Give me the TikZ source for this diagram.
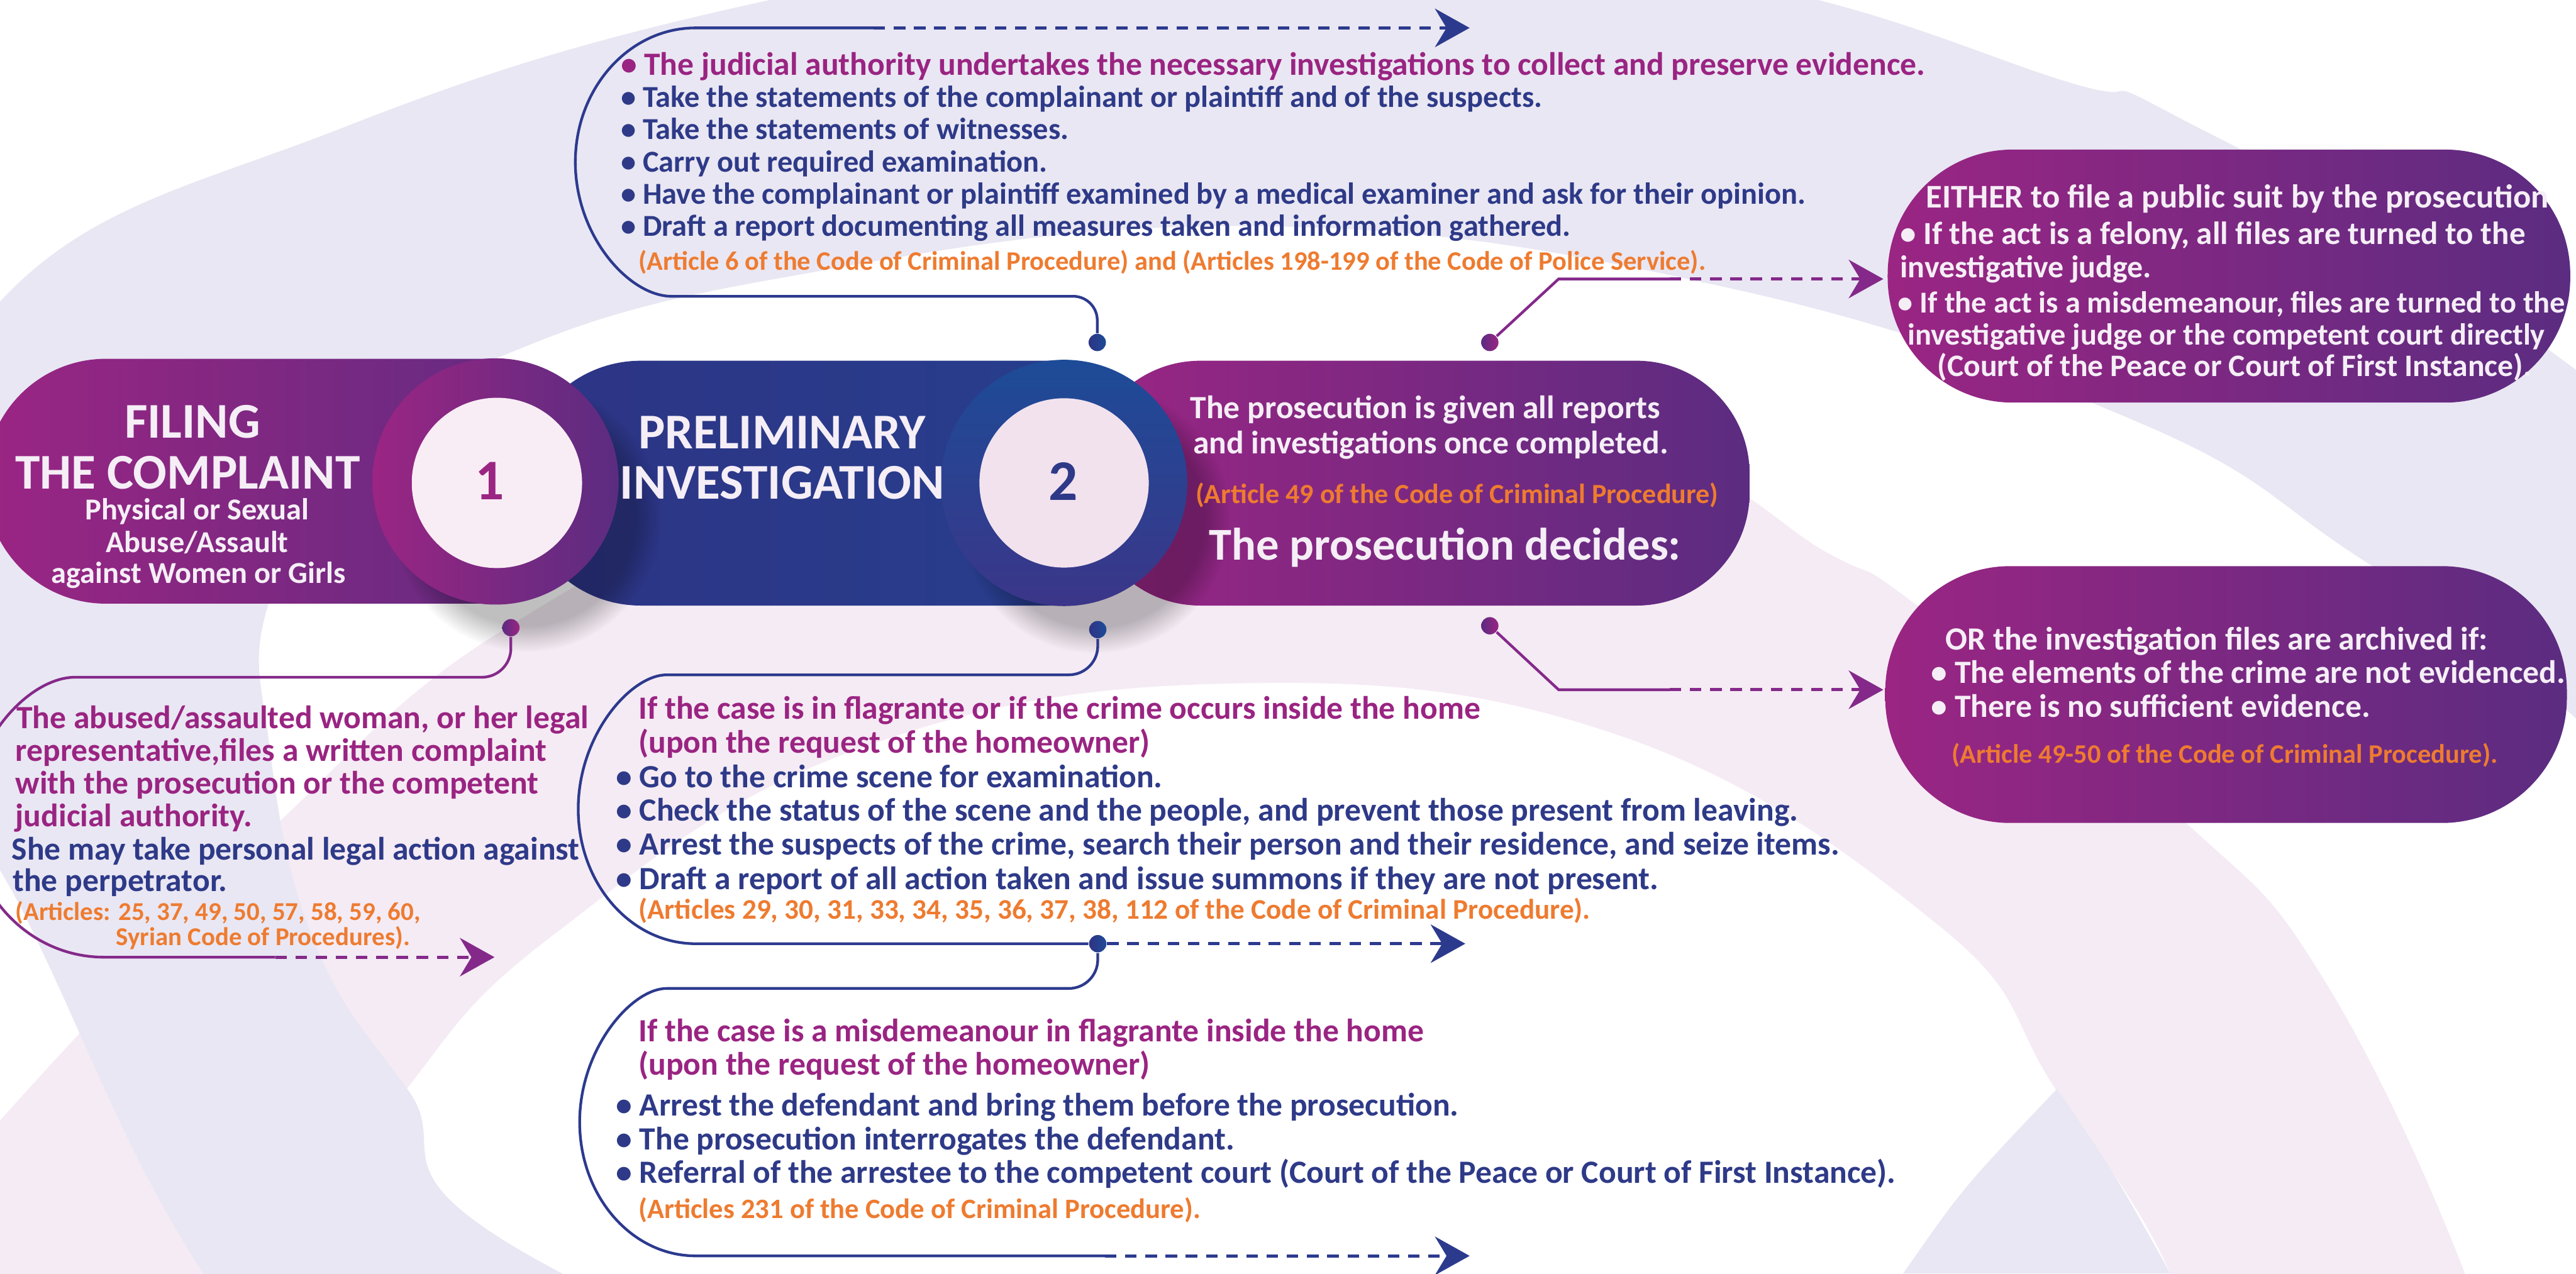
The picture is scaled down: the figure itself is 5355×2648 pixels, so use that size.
\documentclass[tikz,border=0pt]{standalone}
\usepackage{fontspec}
\setmainfont{Carlito}
\usetikzlibrary{arrows.meta,fadings}

\definecolor{magL}{HTML}{9B2583}
\definecolor{purR}{HTML}{5B2C81}
\definecolor{bluL}{HTML}{2E3485}
\definecolor{bluR}{HTML}{25408E}
\definecolor{bluT}{HTML}{1D4B97}
\definecolor{bluB}{HTML}{3B3689}
\definecolor{txtMag}{HTML}{9A2482}
\definecolor{txtBlu}{HTML}{2E3A88}
\definecolor{txtOrg}{HTML}{EE7B30}
\definecolor{txtWht}{HTML}{F5EEF6}
\definecolor{bgLav}{HTML}{E9E7F3}
\definecolor{bgPnk}{HTML}{F5EBF4}
\definecolor{diskIn}{HTML}{F9EDF5}
\definecolor{diskInB}{HTML}{F1E2EE}
\definecolor{lnBlu}{HTML}{2C3A8E}
\definecolor{lnMag}{HTML}{84298A}

\begin{document}
\begin{tikzpicture}[x=0.05mm, y=-0.05mm,
  blu/.style={text=txtBlu, font=\bfseries\fontsize{9.6}{10}\selectfont, anchor=base west, inner sep=0pt},
  mag/.style={blu, text=txtMag},
  bluS/.style={blu, font=\bfseries\fontsize{9}{10}\selectfont},
  org/.style={text=txtOrg, font=\bfseries\fontsize{8.2}{9}\selectfont, anchor=base west, inner sep=0pt},
  orgS/.style={org, font=\bfseries\fontsize{7.6}{8}\selectfont},
  wht/.style={text=txtWht, font=\bfseries\fontsize{9.6}{10}\selectfont, anchor=base west, inner sep=0pt},
  whtc/.style={wht, anchor=base, font=\bfseries\fontsize{9}{10}\selectfont},
  ttl/.style={text=txtWht, font=\bfseries\fontsize{14.8}{16}\selectfont, anchor=base, inner sep=0pt},
  dec/.style={ttl, font=\bfseries\fontsize{13.5}{15}\selectfont},
  num/.style={font=\bfseries\fontsize{17}{17}\selectfont, anchor=base, inner sep=0pt},
  dotb/.style={circle, minimum size=1.8mm, inner sep=0pt, left color=bluL, right color=bluT},
  dotm/.style={circle, minimum size=1.8mm, inner sep=0pt, left color=purR, right color=magL},
  bline/.style={lnBlu, line width=0.8pt},
  mline/.style={lnMag, line width=0.8pt},
  dashline/.style={dash pattern=on 1.2mm off 0.9mm, line width=0.9pt},
  arrowhd/.style={-{Stealth[length=3.6mm, width=4mm, inset=1.2mm]}}]

\useasboundingbox (0,0) rectangle (5355,2648);

% rings behind everything
\begin{scope}
\clip (0,0) rectangle (5355,2648);
\fill[white] (0,0) rectangle (5355,2648);
% inner ring
\fill[bgPnk, even odd rule]
  plot[smooth cycle, tension=0.7] coordinates {(-250,2650) (300,2000) (580,1709) (1036,1316) (1700,1010) (2600,880)
     (3400,940) (3800,1150) (3988,1261) (4540,1707) (4828,2032) (5124,2648) (5200,3000) (-300,3000)}
  plot[smooth cycle, tension=0.7] coordinates {(600,2648) (846,2263) (1150,1944) (1760,1566) (2555,1421) (3369,1530)
     (4035,1928) (4271,2261) (4512,2648) (4600,3000) (500,3000)};
\fill[bgLav] (3956,2648) .. controls (4080,2470) .. (4276,2264) .. controls (4390,2430) .. (4512,2648) -- cycle;
% outer ring
\fill[bgLav, even odd rule]
  plot[smooth cycle, tension=0.7] coordinates {(50,1900) (-250,1300) (0,627) (714,265) (1600,0) (2600,-150) (3600,-40)
     (4300,171) (4515,237) (5200,650) (5800,1300) (6000,2600) (3500,3700) (900,3200) (423,2648)}
  plot[smooth cycle, tension=0.7] coordinates {(846,2263) (650,1950) (560,1550) (560,1250) (760,930) (1020,750) (1600,582)
     (2600,470) (3600,600) (4450,880) (4890,1150) (5308,1448) (5700,2000) (5500,3100) (3000,3400) (1169,2648)};
\end{scope}

%------------------------------------------------------
% bars
\shade[left color=magL, right color=purR, rounded corners=12.5mm] (-30,746) rectangle (1280,1255);
\shade[left color=bluL, right color=bluR, rounded corners=12.5mm] (1082,750) rectangle (2462,1259);
\shade[left color=magL, right color=purR, rounded corners=11.75mm] (2260,750) rectangle (3637,1259);
\shade[left color=magL, right color=purR, rounded corners=13mm] (3924,311) rectangle (5343,837);
\shade[left color=magL, right color=purR, rounded corners=13mm] (3919,1177) rectangle (5336,1711);

% shadows
\fill[black, opacity=0.25, path fading=circle with fuzzy edge 20 percent] (1095,1075) circle [radius=14mm];
\fill[black, opacity=0.25, path fading=circle with fuzzy edge 20 percent] (2277,1078) circle [radius=14mm];

% discs
\shade[left color=magL, right color=purR] (1030,1001) circle [radius=12.8mm];
\fill[diskIn] (1033,1004) circle [radius=8.85mm];
\shade[top color=bluT, bottom color=bluB] (2212,1004) circle [radius=12.8mm];
\fill[diskInB] (2212,1004) circle [radius=8.8mm];

\node[num, text=magL]   (n1) at (1018,1039) {1};
\node[num, text=txtBlu] (n2) at (2210,1040) {2};

% Heading
\node[ttl]  (fil1) at (400,910)  {FILING};
\node[ttl]  (fil2) at (390,1017) {THE COMPLAINT};
\node[whtc] (fil3) at (410,1081) {Physical or Sexual};
\node[whtc] (fil4) at (410,1148) {Abuse/Assault};
\node[whtc] (fil5) at (413,1213) {against Women or Girls};

\node[ttl]  (pre1) at (1626,933)  {PRELIMINARY};
\node[ttl]  (pre2) at (1626,1037) {INVESTIGATION};

\node[wht]  (pr1) at (2473,870)  {The prosecution is given all reports};
\node[wht]  (pr2) at (2479,943)  {and investigations once completed.};
\node[org, anchor=base] (pr3) at (3029,1046) {(Article 49 of the Code of Criminal Procedure)};
\node[dec]  (pr4) at (3004,1164) {The prosecution decides:};

\node[wht, font=\bfseries\fontsize{9.8}{11}\selectfont] (ei1) at (4003,432) {EITHER to file a public suit by the prosecution};
\node[wht, font=\bfseries\fontsize{9.5}{10}\selectfont]  (ei2) at (3949,508) {\textbullet{} If the act is a felony, all files are turned to the};
\node[wht, font=\bfseries\fontsize{9.3}{10}\selectfont]  (ei3) at (3949,577) {investigative judge.};
\node[wht, font=\bfseries\fontsize{9}{10}\selectfont]    (ei4) at (3944,650) {\textbullet{} If the act is a misdemeanour, files are turned to the};
\node[wht, font=\bfseries\fontsize{9}{10}\selectfont]    (ei5) at (3964,717) {investigative judge or the competent court directly};
\node[whtc, font=\bfseries\fontsize{9.25}{10}\selectfont] (ei6) at (4645,782) {(Court of the Peace or Court of First Instance).};

\node[wht]  (or1) at (4043,1351) {OR the investigation files are archived if:};
\node[wht]  (or2) at (4013,1420) {\textbullet{} The elements of the crime are not evidenced.};
\node[wht]  (or3) at (4013,1491) {\textbullet{} There is no sufficient evidence.};
\node[org, font=\bfseries\fontsize{7.9}{9}\selectfont] (or4) at (4056,1586) {(Article 49-50 of the Code of Criminal Procedure).};

% -------- texts around the bars -----------
\node[mag]  (up1) at (1289,156) {\textbullet{} The judicial authority undertakes the necessary investigations to collect and preserve evidence.};
\node[bluS] (up2) at (1289,223) {\textbullet{} Take the statements of the complainant or plaintiff and of the suspects.};
\node[bluS] (up3) at (1289,290) {\textbullet{} Take the statements of witnesses.};
\node[bluS] (up4) at (1289,357) {\textbullet{} Carry out required examination.};
\node[bluS] (up5) at (1289,424) {\textbullet{} Have the complainant or plaintiff examined by a medical examiner and ask for their opinion.};
\node[bluS] (up6) at (1289,491) {\textbullet{} Draft a report documenting all measures taken and information gathered.};
\node[org, font=\bfseries\fontsize{7.9}{9}\selectfont] (up7) at (1326,562) {(Article 6 of the Code of Criminal Procedure) and (Articles 198-199 of the Code of Police Service).};

\node[mag]  (lf1) at (33,1515) {The abused/assaulted woman, or her legal};
\node[mag]  (lf2) at (31,1582) {representative,files a written complaint};
\node[mag]  (lf3) at (31,1650) {with the prosecution or the competent};
\node[mag]  (lf4) at (31,1719) {judicial authority.};
\node[blu]  (lf5) at (23,1788) {She may take personal legal action against};
\node[blu]  (lf6) at (25,1853) {the perpetrator.};
\node[orgS] (lf7) at (31,1913) {(Articles: 25, 37, 49, 50, 57, 58, 59, 60,};
\node[orgS] (lf8) at (240,1966) {Syrian Code of Procedures).};

\node[mag] (fl1) at (1326,1495) {If the case is in flagrante or if the crime occurs inside the home};
\node[mag] (fl2) at (1326,1566) {(upon the request of the homeowner)};
\node[blu] (fl3) at (1279,1638) {\textbullet{} Go to the crime scene for examination.};
\node[blu] (fl4) at (1279,1707) {\textbullet{} Check the status of the scene and the people, and prevent those present from leaving.};
\node[blu] (fl5) at (1279,1778) {\textbullet{} Arrest the suspects of the crime, search their person and their residence, and seize items.};
\node[blu] (fl6) at (1279,1849) {\textbullet{} Draft a report of all action taken and issue summons if they are not present.};
\node[org, font=\bfseries\fontsize{8.4}{9}\selectfont] (fl7) at (1326,1911) {(Articles 29, 30, 31, 33, 34, 35, 36, 37, 38, 112 of the Code of Criminal Procedure).};

\node[mag] (ms1) at (1326,2166) {If the case is a misdemeanour in flagrante inside the home};
\node[mag] (ms2) at (1326,2235) {(upon the request of the homeowner)};
\node[blu] (ms3) at (1279,2320) {\textbullet{} Arrest the defendant and bring them before the prosecution.};
\node[blu] (ms4) at (1279,2391) {\textbullet{} The prosecution interrogates the defendant.};
\node[blu] (ms5) at (1279,2460) {\textbullet{} Referral of the arrestee to the competent court (Court of the Peace or Court of First Instance).};
\node[org, font=\bfseries\fontsize{8.3}{9}\selectfont] (ms6) at (1326,2533) {(Articles 231 of the Code of Criminal Procedure).};

%------------------------------------------------------
% dots
\node[dotb] (dTop) at (2281,712) {};
\node[dotm] (d1)   at (1062,1305) {};
\node[dotb] (d2)   at (2282,1309) {};
\node[dotb] (d3)   at (2282,1962) {};
\node[dotm] (d4)   at (3097,712) {};
\node[dotm] (d5)   at (3097,1301) {};

% where solid turns dashed, and the arrow ends
\coordinate (bTop)  at (1816,58);
\coordinate (aTop)  at (3055,58);
\coordinate (bLeft) at (572,1990);
\coordinate (aLeft) at (1028,1990);
\coordinate (aMid)  at (3046,1962);
\coordinate (bBot)  at (2297,2611);
\coordinate (aBot)  at (3055,2611);
\coordinate (bUp)   at (3471,580);
\coordinate (aUp)   at (3915,580);
\coordinate (bDn)   at (3471,1434);
\coordinate (aDn)   at (3915,1434);

% blue brackets
\draw[bline, rounded corners=2.5mm] (dTop) -- (2281,616) -- (1446,616) [sharp corners]
      .. controls (1308,616) and (1196,491) .. (1196,337)
      .. controls (1196,183) and (1308,58) .. (1446,58) -- (bTop);
\draw[bline, dashline, arrowhd] (bTop) -- (aTop);

\draw[bline, rounded corners=3mm] (d2) -- (2282,1403) -- (1446,1403) [sharp corners]
      .. controls (1311,1403) and (1202,1528) .. (1202,1682)
      .. controls (1202,1837) and (1311,1962) .. (1446,1962) -- (d3);
\draw[bline, dashline, arrowhd] (d3) -- (aMid);

\draw[bline, rounded corners=3mm] (d3) -- (2282,2055) -- (1446,2055) [sharp corners]
      .. controls (1313,2055) and (1205,2180) .. (1205,2333)
      .. controls (1205,2487) and (1313,2611) .. (1446,2611) -- (bBot);
\draw[bline, dashline, arrowhd] (bBot) -- (aBot);

% magenta brackets
\draw[mline, rounded corners=3mm] (d1) -- (1062,1408) -- (216,1408) [sharp corners]
      .. controls (62,1408) and (-63,1538) .. (-63,1699)
      .. controls (-63,1860) and (62,1990) .. (216,1990) -- (bLeft);
\draw[mline, dashline, arrowhd] (bLeft) -- (aLeft);

\draw[mline] (d4) -- (3240,580) -- (bUp);
\draw[mline, dashline, arrowhd] (bUp) -- (aUp);
\draw[mline] (d5) -- (3240,1434) -- (bDn);
\draw[mline, dashline, arrowhd] (bDn) -- (aDn);

\end{tikzpicture}
\end{document}
